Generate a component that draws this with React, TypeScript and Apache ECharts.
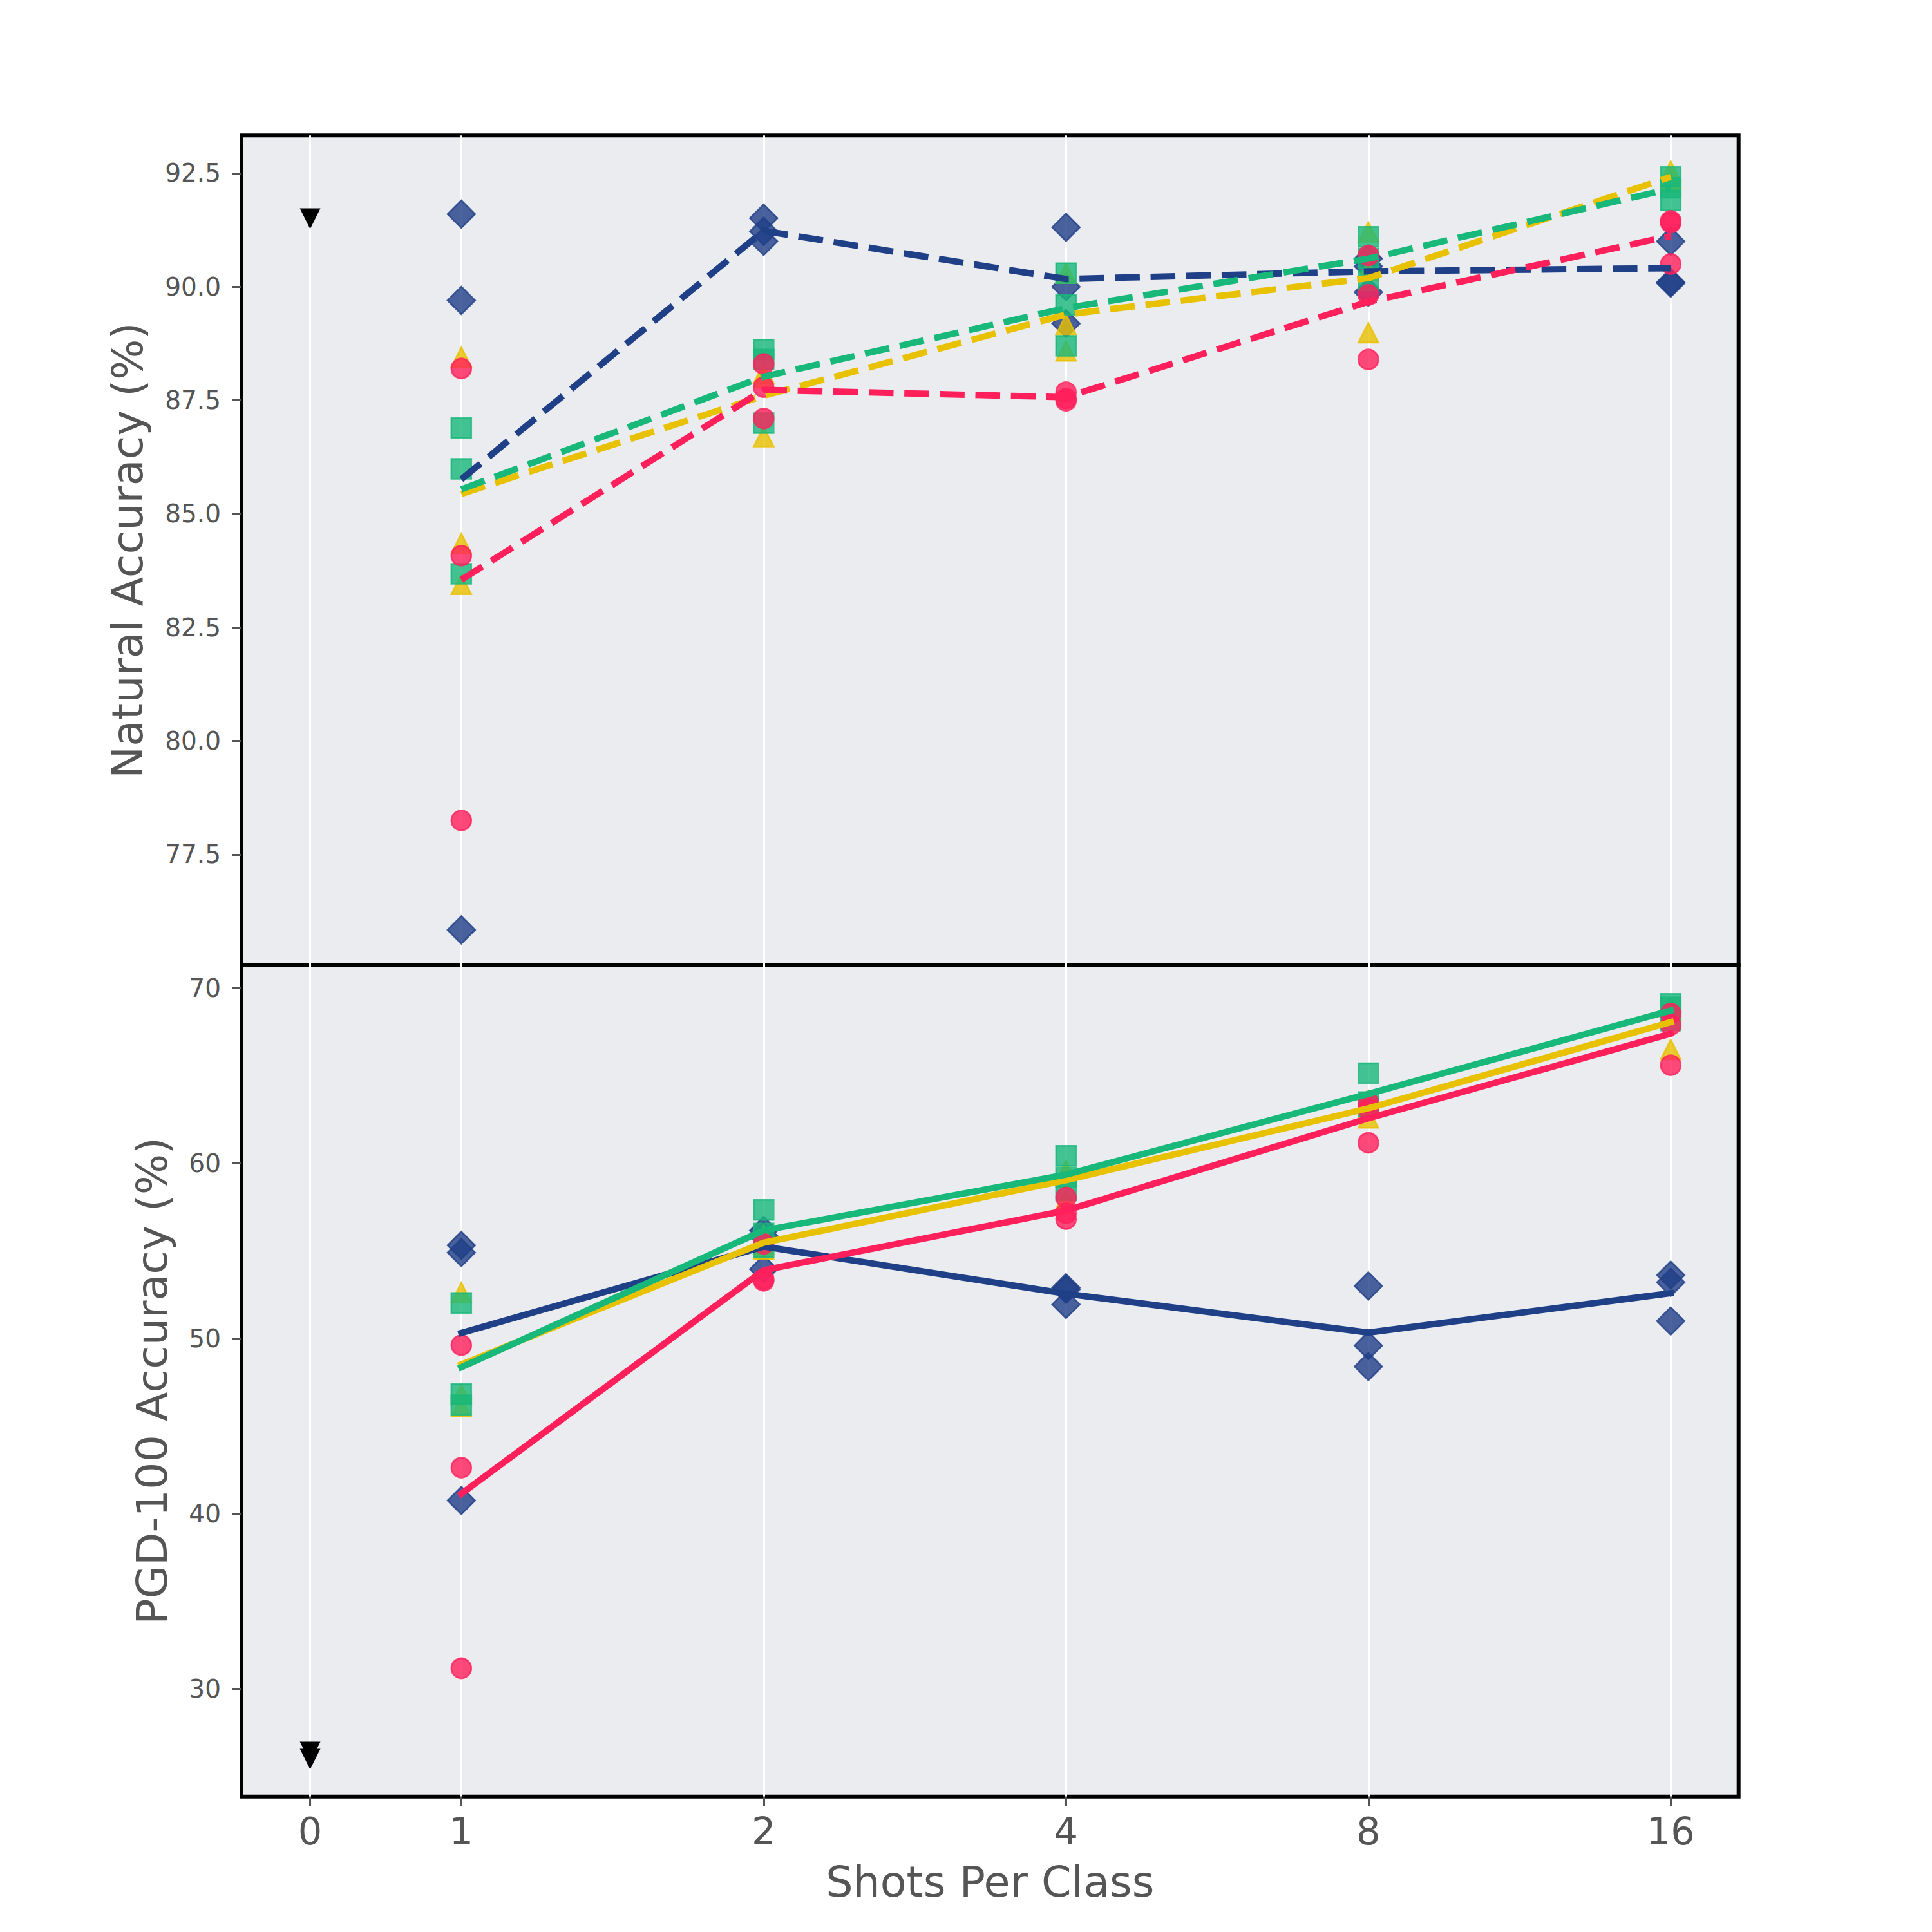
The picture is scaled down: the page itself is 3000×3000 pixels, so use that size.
import React, { useEffect, useRef } from "react";
import * as echarts from "echarts";

// ---------------- data ----------------
const shots = [1, 2, 4, 8, 16];
const xTickShots = [0, 1, 2, 4, 8, 16];
const xTickLabels = ["0", "1", "2", "4", "8", "16"];
const natTicks = [77.5, 80, 82.5, 85, 87.5, 90, 92.5];
const pgdTicks = [30, 40, 50, 60, 70];

const zeroShotX = [0];
const natZeroShot = [91.5];
const pgdZeroShot = [26.4, 26.0];

// Natural accuracy, three runs per shot count
const natBlueSeeds = [
  [91.6, 89.7, 75.84],
  [91.51, 91.22, 91.0],
  [91.31, 90.0, 89.19],
  [90.62, 90.45, 89.88],
  [91.0, 90.1, 90.08],
];
const natYellowSeeds = [
  [88.45, 84.35, 83.45],
  [88.1, 88.0, 86.7],
  [90.3, 89.17, 88.59],
  [91.21, 90.37, 88.99],
  [92.55, 92.4, 92.3],
];
const natGreenSeeds = [
  [86.89, 85.99, 83.68],
  [88.62, 88.4, 87.0],
  [90.3, 89.6, 88.7],
  [91.1, 90.62, 90.14],
  [92.42, 92.18, 91.9],
];
const natRedSeeds = [
  [88.2, 84.08, 78.25],
  [88.3, 87.79, 87.1],
  [87.68, 87.54, 87.49],
  [90.69, 89.82, 88.4],
  [91.45, 91.41, 90.5],
];
const natBlueMean = [85.76, 91.23, 90.17, 90.34, 90.41];
const natYellowMean = [85.44, 87.6, 89.39, 90.19, 92.42];
const natGreenMean = [85.54, 88.02, 89.53, 90.62, 92.16];
const natRedMean = [83.55, 87.73, 87.57, 89.67, 91.12];

// PGD-100 accuracy, three runs per shot count
const pgdBlueSeeds = [
  [55.32, 54.91, 40.76],
  [56.17, 55.85, 53.96],
  [52.9, 52.8, 51.95],
  [53.0, 49.6, 48.4],
  [53.62, 53.21, 51.0],
];
const pgdYellowSeeds = [
  [52.63, 46.8, 46.11],
  [55.9, 55.4, 55.1],
  [59.6, 59.54, 57.97],
  [63.6, 63.2, 62.6],
  [68.9, 68.8, 66.5],
];
const pgdGreenSeeds = [
  [52.03, 46.84, 46.2],
  [57.34, 56.0, 55.2],
  [60.43, 59.2, 58.45],
  [65.14, 63.5, 63.24],
  [69.1, 68.9, 68.15],
];
const pgdRedSeeds = [
  [49.62, 42.63, 31.18],
  [55.4, 53.4, 53.3],
  [58.05, 57.15, 56.82],
  [63.45, 63.1, 61.17],
  [68.55, 67.9, 65.6],
];
const pgdBlueMean = [50.32, 55.25, 52.56, 50.34, 52.59];
const pgdYellowMean = [48.52, 55.47, 59.04, 63.14, 68.06];
const pgdGreenMean = [48.36, 56.17, 59.36, 63.96, 68.72];
const pgdRedMean = [41.14, 53.9, 57.31, 62.57, 67.4];

// ---------------- helpers ----------------
const FONT = "DejaVu Sans";
const TEXT = "#555555";
const BG = "#ebecef";

const shotPos = (s: number) => (s === 0 ? -0.5 : Math.log2(s));
const xTickPos = xTickShots.map(shotPos);

function rgba(hex: string, a: number) {
  const n = parseInt(hex.slice(1), 16);
  return `rgba(${(n >> 16) & 255},${(n >> 8) & 255},${n & 255},${a})`;
}

const methods = [
  { color: "#1f3f87", symbol: "diamond", size: 43, nat: natBlueSeeds, natMean: natBlueMean, pgd: pgdBlueSeeds, pgdMean: pgdBlueMean },
  { color: "#e8c100", symbol: "triangle", size: 31, nat: natYellowSeeds, natMean: natYellowMean, pgd: pgdYellowSeeds, pgdMean: pgdYellowMean },
  { color: "#18b87a", symbol: "rect", size: 31, nat: natGreenSeeds, natMean: natGreenMean, pgd: pgdGreenSeeds, pgdMean: pgdGreenMean },
  { color: "#ff1f5b", symbol: "circle", size: 31, nat: natRedSeeds, natMean: natRedMean, pgd: pgdRedSeeds, pgdMean: pgdRedMean },
];

function seedPoints(seeds: number[][]) {
  const out: number[][] = [];
  seeds.forEach((arr, i) => arr.forEach((v) => out.push([shotPos(shots[i]), v])));
  return out;
}

function buildOption() {
  const X_MIN = -0.727;
  const X_MAX = 4.2245;
  const series: any[] = [];

  [0, 1].forEach((panel) => {
    // scatter of all runs
    methods.forEach((m) => {
      series.push({
        type: "scatter",
        xAxisIndex: panel,
        yAxisIndex: panel,
        symbol: m.symbol,
        symbolSize: m.size,
        data: seedPoints(panel === 0 ? m.nat : m.pgd),
        itemStyle: { color: rgba(m.color, 0.8), borderColor: rgba(m.color, 0.8), borderWidth: 2.5, opacity: 1 },
        emphasis: { disabled: true },
        silent: true,
        z: 2,
      });
    });
    // mean lines
    methods.forEach((m) => {
      const means = panel === 0 ? m.natMean : m.pgdMean;
      series.push({
        type: "line",
        xAxisIndex: panel,
        yAxisIndex: panel,
        data: means.map((v, i) => [shotPos(shots[i]), v]),
        showSymbol: false,
        symbol: "none",
        lineStyle: {
          color: m.color,
          width: 10,
          type: panel === 0 ? [38.5, 16.7] : "solid",
          cap: panel === 0 ? "butt" : "square",
          join: "round",
        },
        emphasis: { disabled: true },
        silent: true,
        z: 3,
      });
    });
    // zero-shot markers
    const zs = panel === 0 ? natZeroShot : pgdZeroShot;
    series.push({
      type: "scatter",
      xAxisIndex: panel,
      yAxisIndex: panel,
      symbol: "triangle",
      symbolRotate: 180,
      symbolSize: 32,
      data: zs.map((v) => [shotPos(zeroShotX[0]), v]),
      itemStyle: { color: "#000000", opacity: 1 },
      emphasis: { disabled: true },
      silent: true,
      z: 4,
    });
  });

  const gridCommon = {
    left: 375,
    width: 2324.7,
    show: true,
    backgroundColor: BG,
    borderColor: "#000000",
    borderWidth: 6,
    containLabel: false,
    outerBoundsMode: "none",
  };

  const xCommon = {
    type: "value",
    min: X_MIN,
    max: X_MAX,
    position: "bottom",
    axisLine: { show: false, onZero: false },
    splitLine: { show: true, lineStyle: { color: "#ffffff", width: 3 } },
  };

  const yTick = { show: true, inside: false, length: 14, lineStyle: { color: TEXT, width: 3 } };

  return {
    animation: false,
    backgroundColor: "#ffffff",
    grid: [
      { ...gridCommon, top: 210.3, height: 1288.7 },
      { ...gridCommon, top: 1499, height: 1290.7 },
    ],
    xAxis: [
      {
        ...xCommon,
        gridIndex: 0,
        axisTick: { show: false, customValues: xTickPos },
        axisLabel: { show: false, customValues: xTickPos },
      },
      {
        ...xCommon,
        gridIndex: 1,
        name: "Shots Per Class",
        nameLocation: "middle",
        nameGap: 98.6,
        nameTextStyle: { fontFamily: FONT, fontSize: 66.7, color: TEXT },
        axisTick: { show: true, inside: false, length: 15, lineStyle: { color: TEXT, width: 3 }, customValues: xTickPos },
        axisLabel: {
          show: true,
          customValues: xTickPos,
          margin: 24.4,
          fontFamily: FONT,
          fontSize: 59,
          color: TEXT,
          formatter: (v: number) => {
            const idx = xTickPos.findIndex((p) => Math.abs(p - v) < 1e-9);
            return idx >= 0 ? xTickLabels[idx] : "";
          },
        },
      },
    ],
    yAxis: [
      {
        type: "value",
        gridIndex: 0,
        position: "left",
        min: 75.06,
        max: 93.332,
        name: "Natural Accuracy (%)",
        nameLocation: "middle",
        nameRotate: 90,
        nameGap: 143.6,
        nameTextStyle: { fontFamily: FONT, fontSize: 66.7, color: TEXT },
        axisLine: { show: false, onZero: false },
        splitLine: { show: false },
        axisTick: { ...yTick, customValues: natTicks },
        axisLabel: {
          customValues: natTicks,
          margin: 32,
          fontFamily: FONT,
          fontSize: 39,
          color: TEXT,
          formatter: (v: number) => v.toFixed(1),
        },
      },
      {
        type: "value",
        gridIndex: 1,
        position: "left",
        min: 23.86,
        max: 71.3,
        name: "PGD-100 Accuracy (%)",
        nameLocation: "middle",
        nameRotate: 90,
        nameGap: 105.6,
        nameTextStyle: { fontFamily: FONT, fontSize: 66.7, color: TEXT },
        axisLine: { show: false, onZero: false },
        splitLine: { show: false },
        axisTick: { ...yTick, customValues: pgdTicks },
        axisLabel: {
          customValues: pgdTicks,
          margin: 32,
          fontFamily: FONT,
          fontSize: 39,
          color: TEXT,
          formatter: (v: number) => String(Math.round(v)),
        },
      },
    ],
    series,
  };
}

export default function App() {
  const ref = useRef<HTMLDivElement>(null);
  useEffect(() => {
    if (!ref.current) return;
    const chart = echarts.init(ref.current, undefined, { renderer: "svg" });
    chart.setOption(buildOption() as any);
    return () => chart.dispose();
  }, []);
  return (
    <div
      ref={ref}
      style={{ position: "absolute", left: 0, top: 0, width: 3000, height: 3000, background: "#ffffff" }}
    />
  );
}
